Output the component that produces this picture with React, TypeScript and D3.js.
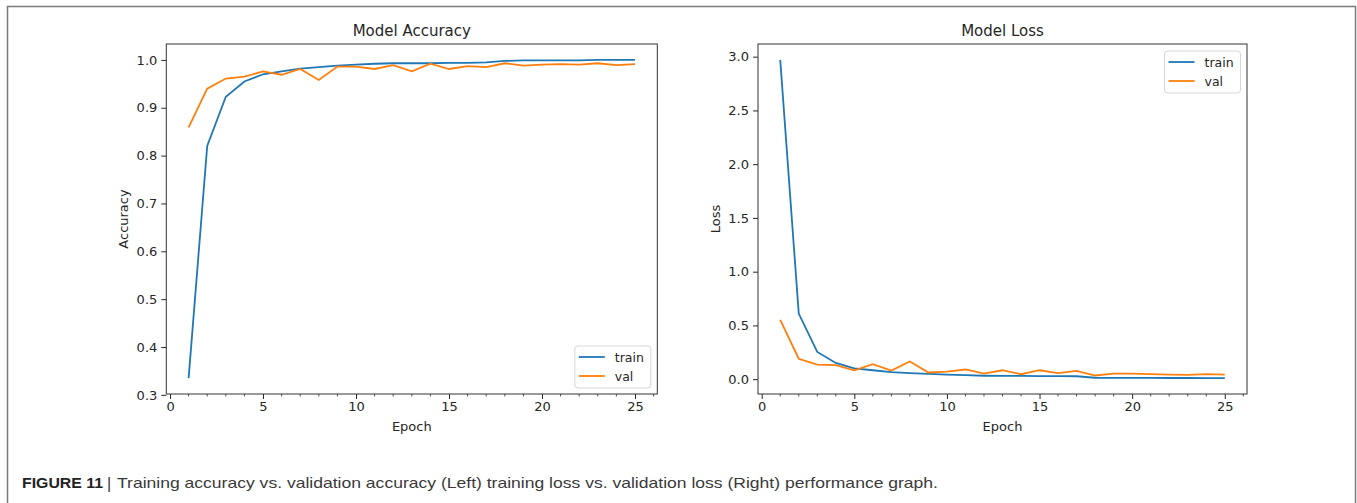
import React, { useRef, useEffect } from "react";
import { select, scaleLinear, axisBottom, axisLeft, line, range, format } from "d3";

// epochs and the four curves
const epochs = [1, 2, 3, 4, 5, 6, 7, 8, 9, 10, 11, 12, 13, 14, 15, 16, 17, 18, 19, 20, 21, 22, 23, 24, 25];
const accTrain = [0.335, 0.82, 0.923, 0.955, 0.97, 0.976, 0.982, 0.985, 0.988, 0.99, 0.992, 0.993, 0.993, 0.993, 0.994, 0.994, 0.995, 0.998, 0.999, 0.999, 0.999, 0.999, 1.0, 1.0, 1.0];
const accVal = [0.859, 0.94, 0.961, 0.965, 0.976, 0.969, 0.981, 0.958, 0.986, 0.986, 0.981, 0.989, 0.976, 0.992, 0.981, 0.987, 0.985, 0.993, 0.988, 0.99, 0.991, 0.99, 0.993, 0.989, 0.991];
const lossTrain = [2.97, 0.61, 0.253, 0.151, 0.1, 0.083, 0.065, 0.056, 0.049, 0.043, 0.037, 0.032, 0.03, 0.03, 0.029, 0.028, 0.027, 0.013, 0.012, 0.012, 0.012, 0.011, 0.011, 0.01, 0.01];
const lossVal = [0.552, 0.19, 0.135, 0.13, 0.083, 0.139, 0.08, 0.164, 0.062, 0.071, 0.09, 0.052, 0.083, 0.046, 0.083, 0.056, 0.077, 0.034, 0.052, 0.052, 0.046, 0.043, 0.04, 0.046, 0.043];
const accTicks = [0.3, 0.4, 0.5, 0.6, 0.7, 0.8, 0.9, 1.0];
const lossTicks = [0.0, 0.5, 1.0, 1.5, 2.0, 2.5, 3.0];
const epochTicks = [0, 5, 10, 15, 20, 25];
const seriesNames = ["train", "val"];

const BLUE = "#1f77b4";
const ORANGE = "#ff7f0e";
const FONT = "'DejaVu Sans', sans-serif";
const TXT = "#262626";

function drawPanel(g, cfg) {
  const { left, right, top, bottom, title, ylabel, train, val, yTicks, legendTop } = cfg;

  // matplotlib style 5% margins
  const all = train.concat(val);
  const lo = Math.min(...all), hi = Math.max(...all);
  const pad = (hi - lo) * 0.05;

  const x = scaleLinear().domain([-0.2, 26.2]).range([left, right]);
  const y = scaleLinear().domain([lo - pad, hi + pad]).range([bottom, top]);

  // x axis
  const xAxis = axisBottom(x).tickValues(epochTicks).tickSize(5).tickPadding(3).tickSizeOuter(0);
  const gx = g.append("g").attr("transform", `translate(0,${bottom})`).call(xAxis);
  gx.select(".domain").remove();
  gx.selectAll("line").attr("stroke", TXT).attr("stroke-width", 1);
  gx.selectAll("text").attr("font-family", FONT).attr("font-size", 13).attr("fill", TXT);

  // minor ticks every epoch
  g.selectAll(".minor")
    .data(range(1, 27).filter((d) => d % 5 !== 0))
    .join("line")
    .attr("class", "minor")
    .attr("x1", (d) => x(d)).attr("x2", (d) => x(d))
    .attr("y1", bottom).attr("y2", bottom + 2.5)
    .attr("stroke", TXT).attr("stroke-width", 0.8);

  // y axis
  const yAxis = axisLeft(y).tickValues(yTicks).tickFormat(format(".1f")).tickSize(5).tickPadding(4).tickSizeOuter(0);
  const gy = g.append("g").attr("transform", `translate(${left},0)`).call(yAxis);
  gy.select(".domain").remove();
  gy.selectAll("line").attr("stroke", TXT).attr("stroke-width", 1);
  gy.selectAll("text").attr("font-family", FONT).attr("font-size", 13).attr("fill", TXT);

  // lines
  const path = line().x((d, i) => x(epochs[i])).y((d) => y(d));
  g.append("path").datum(train).attr("d", path).attr("fill", "none").attr("stroke", BLUE).attr("stroke-width", 1.8);
  g.append("path").datum(val).attr("d", path).attr("fill", "none").attr("stroke", ORANGE).attr("stroke-width", 1.8);

  // spines
  g.append("rect")
    .attr("x", left).attr("y", top)
    .attr("width", right - left).attr("height", bottom - top)
    .attr("fill", "none").attr("stroke", "#333").attr("stroke-width", 1);

  // title and labels
  g.append("text").text(title)
    .attr("x", (left + right) / 2).attr("y", 36)
    .attr("text-anchor", "middle").attr("font-family", FONT).attr("font-size", 15).attr("fill", TXT);
  g.append("text").text("Epoch")
    .attr("x", (left + right) / 2).attr("y", 431)
    .attr("text-anchor", "middle").attr("font-family", FONT).attr("font-size", 13).attr("fill", TXT);
  g.append("text").text(ylabel)
    .attr("transform", `translate(${left - 38},${(top + bottom) / 2}) rotate(-90)`)
    .attr("text-anchor", "middle").attr("font-family", FONT).attr("font-size", 13).attr("fill", TXT);

  // legend
  const lx = right - 82.5;
  const lg = g.append("g");
  lg.append("rect")
    .attr("x", lx).attr("y", legendTop)
    .attr("width", 76).attr("height", 42).attr("rx", 3)
    .attr("fill", "white").attr("stroke", "#d6d6d6").attr("stroke-width", 1);
  seriesNames.forEach((name, i) => {
    const ly = legendTop + 11 + i * 19;
    lg.append("line")
      .attr("x1", lx + 4).attr("x2", lx + 30)
      .attr("y1", ly).attr("y2", ly)
      .attr("stroke", i === 0 ? BLUE : ORANGE).attr("stroke-width", 1.8);
    lg.append("text").text(name)
      .attr("x", lx + 40).attr("y", ly + 4.5)
      .attr("font-family", FONT).attr("font-size", 12.5).attr("fill", TXT);
  });
}

function App() {
  const svgRef = useRef(null);

  useEffect(() => {
    const svg = select(svgRef.current);
    svg.selectAll(".panel").remove();

    drawPanel(svg.append("g").attr("class", "panel"), {
      left: 166.3, right: 657.3, top: 44, bottom: 394,
      title: "Model Accuracy", ylabel: "Accuracy",
      train: accTrain, val: accVal, yTicks: accTicks, legendTop: 346,
    });
    drawPanel(svg.append("g").attr("class", "panel"), {
      left: 758, right: 1247, top: 44, bottom: 394,
      title: "Model Loss", ylabel: "Loss",
      train: lossTrain, val: lossVal, yTicks: lossTicks, legendTop: 51,
    });
  }, []);

  return (
    <svg ref={svgRef} width={1357} height={503}
      style={{ position: "absolute", left: 0, top: 0, background: "white" }}>
      {/* outer frame of the figure */}
      <path d="M7.5,510 L7.5,6.5 L1355.5,6.5 L1355.5,510" fill="none" stroke="#7a7a7a" strokeWidth={1.5} />
      <text x={22} y={487.5} fontFamily="'Liberation Sans', Arial, sans-serif" fontSize={15}
        fontWeight="bold" fill="#222" textLength={81} lengthAdjust="spacingAndGlyphs">FIGURE 11</text>
      <text x={107} y={488.5} fontFamily="'Liberation Sans', Arial, sans-serif" fontSize={16} fill="#333">|</text>
      <text x={117} y={487.5} fontFamily="'Liberation Sans', Arial, sans-serif" fontSize={15}
        fill="#3a3a3a" textLength={821} lengthAdjust="spacingAndGlyphs">
        Training accuracy vs. validation accuracy (Left) training loss vs. validation loss (Right) performance graph.
      </text>
    </svg>
  );
}

export default App;
